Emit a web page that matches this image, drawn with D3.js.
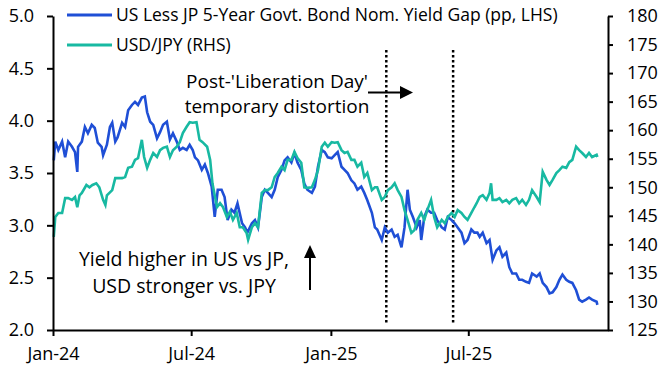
<!DOCTYPE html>
<html>
<head>
<meta charset="utf-8">
<script src="https://cdn.jsdelivr.net/npm/d3@7"></script>
<style>
  body { margin: 0; background: #fff; }
  svg text { font-family: "Open Sans", "Noto Sans", sans-serif; fill: #000; }
</style>
</head>
<body>
<div id="chart"></div>
<script>
// US less JP 5y yield gap (pp, LHS)
var gapDates = ["2024-01-02","2024-01-04","2024-01-08","2024-01-13","2024-01-17","2024-01-21","2024-01-26","2024-01-30","2024-02-02","2024-02-03",
  "2024-02-08","2024-02-12","2024-02-16","2024-02-21","2024-02-25","2024-02-29","2024-03-05","2024-03-07","2024-03-12","2024-03-16",
  "2024-03-19","2024-03-23","2024-03-26","2024-04-01","2024-04-05","2024-04-09","2024-04-14","2024-04-18","2024-04-22","2024-04-27",
  "2024-05-01","2024-05-04","2024-05-08","2024-05-12","2024-05-17","2024-05-21","2024-05-25","2024-05-30","2024-06-03","2024-06-07",
  "2024-06-12","2024-06-16","2024-06-20","2024-06-25","2024-06-29","2024-07-03","2024-07-06","2024-07-10","2024-07-15","2024-07-19",
  "2024-07-23","2024-07-28","2024-08-01","2024-08-05","2024-08-10","2024-08-14","2024-08-18","2024-08-23","2024-08-27","2024-08-31",
  "2024-09-06","2024-09-10","2024-09-13","2024-09-19","2024-09-23","2024-09-27","2024-10-02","2024-10-06","2024-10-10","2024-10-15",
  "2024-10-19","2024-10-23","2024-10-28","2024-11-01","2024-11-05","2024-11-10","2024-11-14","2024-11-18","2024-11-23","2024-11-27",
  "2024-12-01","2024-12-07","2024-12-11","2024-12-15","2024-12-20","2024-12-24","2024-12-28","2025-01-02","2025-01-06","2025-01-10",
  "2025-01-15","2025-01-19","2025-01-23","2025-01-28","2025-02-01","2025-02-05","2025-02-10","2025-02-14","2025-02-18","2025-02-24",
  "2025-02-28","2025-03-03","2025-03-09","2025-03-13","2025-03-17","2025-03-22","2025-03-26","2025-03-30","2025-04-04","2025-04-08",
  "2025-04-12","2025-04-15","2025-04-19","2025-04-24","2025-04-28","2025-04-30","2025-05-04","2025-05-08","2025-05-13","2025-05-17",
  "2025-05-21","2025-05-27","2025-05-31","2025-06-04","2025-06-09","2025-06-13","2025-06-17","2025-06-22","2025-06-26","2025-06-30",
  "2025-07-05","2025-07-09","2025-07-13","2025-07-16","2025-07-20","2025-07-25","2025-07-29","2025-08-02","2025-08-07","2025-08-11",
  "2025-08-15","2025-08-20","2025-08-24","2025-08-28","2025-09-02","2025-09-06","2025-09-10","2025-09-15","2025-09-19","2025-09-23",
  "2025-09-29","2025-10-03","2025-10-07","2025-10-12","2025-10-16","2025-10-20","2025-10-25","2025-10-29","2025-11-02","2025-11-07",
  "2025-11-11","2025-11-15","2025-11-20","2025-11-24","2025-11-28","2025-12-03","2025-12-07","2025-12-11","2025-12-17","2025-12-18"];
var gapValues = [3.62,3.80,3.72,3.80,3.65,3.80,3.75,3.70,3.51,3.75,
  3.80,3.94,3.88,3.96,3.93,3.79,3.75,3.67,3.77,3.94,
  3.98,3.80,3.84,3.98,3.94,4.10,4.15,4.18,4.15,4.22,
  4.23,4.08,3.99,3.96,3.83,3.89,3.96,3.99,3.82,3.88,
  3.80,3.72,3.74,3.72,3.77,3.72,3.65,3.62,3.53,3.58,
  3.50,3.37,3.08,3.34,3.34,3.27,3.05,3.15,3.12,3.21,
  3.02,2.98,2.93,3.02,3.05,2.98,3.27,3.34,3.31,3.27,
  3.34,3.46,3.53,3.62,3.65,3.60,3.69,3.60,3.53,3.40,
  3.34,3.31,3.37,3.56,3.72,3.70,3.65,3.64,3.67,3.70,
  3.56,3.53,3.50,3.43,3.40,3.34,3.37,3.31,3.24,3.12,
  2.98,2.96,2.86,2.98,2.93,2.96,2.89,2.91,2.79,2.98,
  3.34,3.15,3.08,2.98,3.05,2.86,3.08,3.15,3.12,3.12,
  3.05,2.98,2.96,3.08,3.05,3.02,2.98,2.93,2.83,2.86,
  2.96,2.93,2.93,2.89,2.93,2.83,2.86,2.67,2.76,2.79,
  2.70,2.74,2.60,2.54,2.54,2.48,2.48,2.46,2.45,2.54,
  2.51,2.54,2.45,2.41,2.35,2.36,2.41,2.48,2.53,2.48,
  2.46,2.45,2.38,2.29,2.27,2.29,2.31,2.29,2.27,2.24];

// USD/JPY (RHS)
var jpyDates = ["2024-01-02","2024-01-04","2024-01-08","2024-01-13","2024-01-17","2024-01-21","2024-01-26","2024-01-30","2024-02-02","2024-02-05",
  "2024-02-08","2024-02-14","2024-02-18","2024-02-22","2024-02-27","2024-03-02","2024-03-07","2024-03-10","2024-03-12","2024-03-19",
  "2024-03-23","2024-03-26","2024-04-01","2024-04-05","2024-04-09","2024-04-14","2024-04-18","2024-04-22","2024-04-27","2024-04-30",
  "2024-05-04","2024-05-08","2024-05-12","2024-05-17","2024-05-21","2024-05-25","2024-05-30","2024-06-03","2024-06-07","2024-06-12",
  "2024-06-16","2024-06-20","2024-06-25","2024-06-29","2024-07-03","2024-07-08","2024-07-12","2024-07-16","2024-07-22","2024-07-26",
  "2024-07-29","2024-08-04","2024-08-08","2024-08-12","2024-08-17","2024-08-21","2024-08-25","2024-08-30","2024-09-03","2024-09-07",
  "2024-09-12","2024-09-14","2024-09-19","2024-09-23","2024-09-27","2024-10-02","2024-10-06","2024-10-10","2024-10-15","2024-10-19",
  "2024-10-23","2024-10-28","2024-11-01","2024-11-05","2024-11-10","2024-11-14","2024-11-18","2024-11-23","2024-11-27","2024-12-01",
  "2024-12-07","2024-12-11","2024-12-15","2024-12-20","2024-12-24","2024-12-28","2025-01-02","2025-01-06","2025-01-10","2025-01-15",
  "2025-01-19","2025-01-23","2025-01-28","2025-02-01","2025-02-05","2025-02-10","2025-02-14","2025-02-18","2025-02-24","2025-02-28",
  "2025-03-03","2025-03-09","2025-03-13","2025-03-17","2025-03-22","2025-03-26","2025-03-30","2025-04-04","2025-04-08","2025-04-12",
  "2025-04-17","2025-04-21","2025-04-25","2025-04-30","2025-05-04","2025-05-08","2025-05-13","2025-05-17","2025-05-21","2025-05-27",
  "2025-05-31","2025-06-04","2025-06-09","2025-06-13","2025-06-17","2025-06-22","2025-06-26","2025-06-30","2025-07-05","2025-07-09",
  "2025-07-12","2025-07-16","2025-07-20","2025-07-25","2025-07-29","2025-07-31","2025-08-02","2025-08-07","2025-08-11","2025-08-15",
  "2025-08-20","2025-08-24","2025-08-28","2025-09-02","2025-09-06","2025-09-10","2025-09-15","2025-09-19","2025-09-23","2025-09-29",
  "2025-10-03","2025-10-07","2025-10-12","2025-10-16","2025-10-20","2025-10-25","2025-10-29","2025-11-02","2025-11-07","2025-11-11",
  "2025-11-15","2025-11-20","2025-11-24","2025-11-28","2025-12-03","2025-12-07","2025-12-11","2025-12-17","2025-12-18"];
var jpyValues = [141.3,144.8,145.5,145.5,148.1,148.1,147.8,148.3,146.5,148.6,
  149.0,150.4,150.0,150.4,150.7,150.0,147.8,146.9,148.6,149.5,
  151.6,151.6,151.6,151.8,153.4,153.6,154.8,155.1,158.3,155.3,
  153.4,154.8,156.0,155.3,156.5,156.9,157.1,155.3,156.5,157.1,
  157.9,159.5,160.6,161.4,161.3,161.4,158.3,157.9,157.1,154.8,
  150.7,146.5,147.2,146.5,144.8,145.7,144.3,145.5,143.0,143.0,
  142.0,140.8,143.0,143.7,143.0,149.0,149.5,149.5,150.0,151.8,
  152.5,153.6,153.0,154.8,154.8,156.2,155.1,154.3,150.0,149.9,
  150.0,151.3,153.0,157.1,157.8,157.1,157.9,157.8,157.9,156.5,
  156.0,156.2,154.8,154.8,153.6,154.3,151.8,152.5,149.5,150.0,
  150.0,147.8,148.3,149.5,150.0,150.7,149.5,148.3,146.0,144.3,
  142.0,142.5,144.3,145.5,144.3,146.0,147.8,144.8,143.0,144.3,
  143.7,144.8,145.5,144.8,146.0,145.5,144.8,144.3,145.5,146.5,
  147.2,148.3,148.6,147.8,149.0,150.7,147.8,147.8,148.1,147.4,
  147.8,147.2,147.8,148.1,147.2,147.8,146.9,147.8,149.5,148.3,
  147.4,152.7,151.3,150.4,151.3,152.5,153.0,153.6,153.4,154.4,
  154.8,157.1,156.5,156.0,155.3,156.0,155.3,155.7,155.3];

var eventDates = ["2025-03-15", "2025-06-11"];
var leftTicks = [2.0, 2.5, 3.0, 3.5, 4.0, 4.5, 5.0];
var rightTicks = [125, 130, 135, 140, 145, 150, 155, 160, 165, 170, 175, 180];
var xTicks = ["2024-01-01", "2024-07-01", "2025-01-01", "2025-07-01"];
var seriesNames = ["US Less JP 5-Year Govt. Bond Nom. Yield Gap (pp, LHS)", "USD/JPY (RHS)"];

var blue = "#1f4fd6", teal = "#18b9a2";
var parse = d3.timeParse("%Y-%m-%d");

var margin = {top: 16, right: 62, bottom: 48, left: 53},
    W = 670, H = 378,
    width = W - margin.left - margin.right,
    height = H - margin.top - margin.bottom;

var svg = d3.select("#chart").append("svg")
    .attr("width", W).attr("height", H);
var g = svg.append("g").attr("transform", "translate(" + margin.left + "," + margin.top + ")");

var x = d3.scaleTime().domain([parse("2024-01-01"), parse("2026-01-01")]).range([0, width]);
var yL = d3.scaleLinear().domain([2, 5]).range([height, 0]);
var yR = d3.scaleLinear().domain([125, 180]).range([height, 0]);

var gapData = gapDates.map(function(d, i) { return {date: parse(d), v: gapValues[i]}; });
var jpyData = jpyDates.map(function(d, i) { return {date: parse(d), v: jpyValues[i]}; });

// event lines
g.selectAll(".evt").data(eventDates).enter().append("line")
  .attr("x1", function(d) { return x(parse(d)); })
  .attr("x2", function(d) { return x(parse(d)); })
  .attr("y1", 34).attr("y2", height - 5)
  .attr("stroke", "#000").attr("stroke-width", 2.5)
  .attr("stroke-dasharray", "2.5,2.5");

// lines
g.append("path").datum(gapData)
  .attr("fill", "none").attr("stroke", blue).attr("stroke-width", 2.6)
  .attr("d", d3.line().x(function(d) { return x(d.date); }).y(function(d) { return yL(d.v); }));
g.append("path").datum(jpyData)
  .attr("fill", "none").attr("stroke", teal).attr("stroke-width", 2.6)
  .attr("d", d3.line().x(function(d) { return x(d.date); }).y(function(d) { return yR(d.v); }));

// axes
var ax = g.append("g").attr("transform", "translate(0," + height + ")")
  .call(d3.axisBottom(x).tickValues(xTicks.map(parse)).tickFormat(d3.timeFormat("%b-%y"))
    .tickSizeInner(6).tickSizeOuter(0).tickPadding(11));
var al = g.append("g")
  .call(d3.axisLeft(yL).tickValues(leftTicks).tickFormat(d3.format(".1f"))
    .tickSizeInner(6).tickSizeOuter(0).tickPadding(13));
var ar = g.append("g").attr("transform", "translate(" + width + ",0)")
  .call(d3.axisRight(yR).tickValues(rightTicks).tickFormat(d3.format("d"))
    .tickSizeInner(5).tickSizeOuter(0).tickPadding(14));
[ax, al, ar].forEach(function(a) {
  a.select(".domain").attr("stroke", "#000").attr("stroke-width", 2);
  a.selectAll(".tick line").attr("stroke", "#000").attr("stroke-width", 2);
  a.selectAll("text").style("font-size", "18px").attr("fill", "#000");
});

// legend
var leg = svg.append("g");
[blue, teal].forEach(function(c, i) {
  leg.append("line").attr("x1", 67).attr("x2", 112)
    .attr("y1", 15 + i * 30).attr("y2", 15 + i * 30)
    .attr("stroke", c).attr("stroke-width", 3);
  leg.append("text").attr("x", 116).attr("y", 15 + i * 30).attr("dy", "0.35em")
    .style("font-size", "17.5px").text(seriesNames[i]);
});

// annotations
var note = svg.append("text").attr("text-anchor", "middle").style("font-size", "19px");
note.append("tspan").attr("x", 277).attr("y", 88).text("Post-'Liberation Day'");
note.append("tspan").attr("x", 277).attr("y", 113).text("temporary distortion");

var note2 = svg.append("text").attr("text-anchor", "middle").style("font-size", "19.5px");
note2.append("tspan").attr("x", 184).attr("y", 266).text("Yield higher in US vs JP,");
note2.append("tspan").attr("x", 184).attr("y", 293).text("USD stronger vs. JPY");

svg.append("line").attr("x1", 368).attr("x2", 401).attr("y1", 92.5).attr("y2", 92.5)
  .attr("stroke", "#000").attr("stroke-width", 2);
svg.append("path").attr("d", "M400,86 L413,92.5 L400,99 Z").attr("fill", "#000");

svg.append("line").attr("x1", 310).attr("x2", 310).attr("y1", 290).attr("y2", 256)
  .attr("stroke", "#000").attr("stroke-width", 2);
svg.append("path").attr("d", "M304,258 L310,245 L316,258 Z").attr("fill", "#000");
</script>
</body>
</html>
